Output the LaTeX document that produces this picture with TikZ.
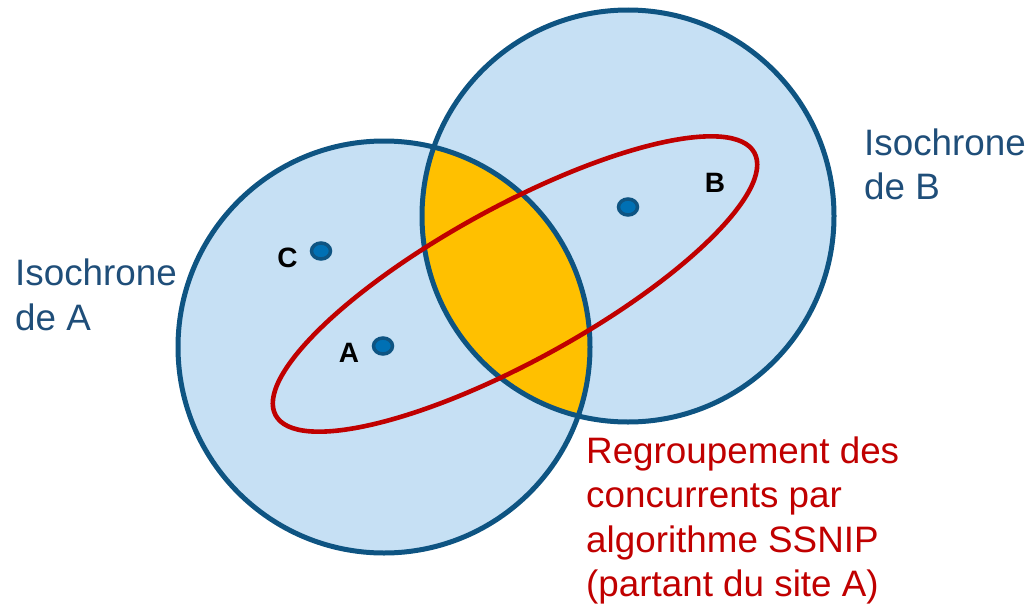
\documentclass[tikz,border=0pt]{standalone}
\usepackage{fontspec}
\setmainfont{Liberation Sans}
\usetikzlibrary{shapes.geometric}
\definecolor{isoline}{RGB}{14,84,130}
\definecolor{isofill}{RGB}{198,224,244}
\definecolor{lenscol}{RGB}{255,192,0}
\definecolor{grp}{RGB}{192,0,0}
\definecolor{isotext}{RGB}{31,78,121}
\definecolor{dotfill}{RGB}{0,112,180}
\begin{document}
\begin{tikzpicture}[x=1pt,y=-1pt,
  isocircle/.style={draw=isoline,line width=5pt},
  sitedot/.style={ellipse,draw=isoline,fill=dotfill,line width=3.5pt,minimum width=19pt,minimum height=16pt,inner sep=0pt},
  sitelbl/.style={font=\fontsize{28}{30}\selectfont\bfseries,text=black,inner sep=0pt},
  bigtxt/.style={font=\fontsize{36.8}{44.5}\selectfont,align=left,inner sep=0pt,anchor=base west}]
\useasboundingbox (0,0) rectangle (1030,605);
\coordinate (cA) at (384,347);
\coordinate (cB) at (628,216);
\fill[isofill] (cA) circle[radius=206pt];
\fill[isofill] (cB) circle[radius=206pt];
\begin{scope}
  \clip (cA) circle[radius=206pt];
  \fill[lenscol] (cB) circle[radius=206pt];
\end{scope}
\draw[isocircle] (cA) circle[radius=206pt];
\draw[isocircle] (cB) circle[radius=206pt];
\coordinate (cE) at (515,284);
\draw[grp,line width=4.6pt,rotate around={28.75:(cE)}] (cE) ellipse[x radius=273pt,y radius=77pt];
\node[sitedot] (dC) at (321,251) {};
\node[sitedot] (dA) at (383,346) {};
\node[sitedot] (dB) at (628,207) {};
\node[sitelbl] (lC) at (287.5,258) {C};
\node[sitelbl] (lA) at (349,353) {A};
\node[sitelbl] (lB) at (715,183) {B};
\node[bigtxt,text=isotext] (tA) at (15,330) {Isochrone\\de A};
\node[bigtxt,text=isotext] (tB) at (864,199.5) {Isochrone\\de B};
\node[bigtxt,text=grp] (tG) at (586,596.5) {Regroupement des\\concurrents par\\algorithme SSNIP\\(partant du site A)};
\end{tikzpicture}
\end{document}
